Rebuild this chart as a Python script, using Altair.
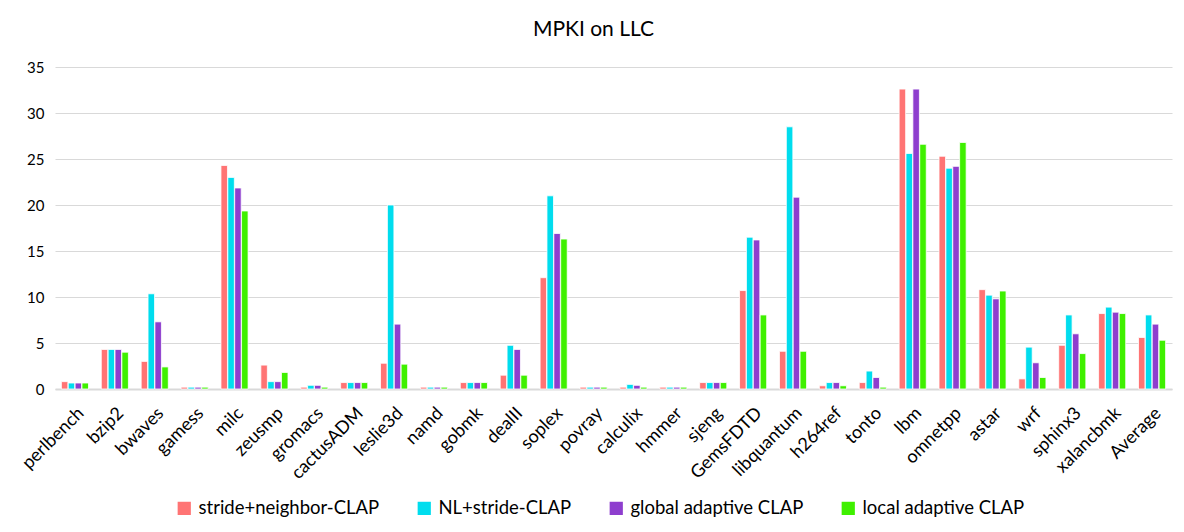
import altair as alt
import pandas as pd

categories = ["perlbench", "bzip2", "bwaves", "gamess", "milc", "zeusmp", "gromacs",
              "cactusADM", "leslie3d", "namd", "gobmk", "dealII", "soplex", "povray",
              "calculix", "hmmer", "sjeng", "GemsFDTD", "libquantum", "h264ref", "tonto",
              "lbm", "omnetpp", "astar", "wrf", "sphinx3", "xalancbmk", "Average"]
series = ["stride+neighbor-CLAP", "NL+stride-CLAP", "global adaptive CLAP", "local adaptive CLAP"]
colors = ["#FF7474", "#00DDEE", "#8E3ECE", "#3FF000"]

stride_neighbor = [0.8, 4.3, 3.0, 0.2, 24.3, 2.6, 0.2, 0.7, 2.8, 0.2, 0.7, 1.5, 12.1, 0.2,
                   0.2, 0.2, 0.7, 10.7, 4.1, 0.35, 0.7, 32.6, 25.3, 10.8, 1.1, 4.75, 8.2, 5.6]
nl_stride = [0.65, 4.3, 10.35, 0.2, 23.0, 0.8, 0.4, 0.7, 20.0, 0.2, 0.7, 4.75, 21.0, 0.2,
             0.5, 0.2, 0.7, 16.5, 28.5, 0.7, 1.95, 25.6, 24.0, 10.2, 4.55, 8.05, 8.9, 8.05]
global_adaptive = [0.65, 4.3, 7.3, 0.2, 21.85, 0.8, 0.4, 0.7, 7.05, 0.2, 0.7, 4.3, 16.9, 0.2,
                   0.4, 0.2, 0.7, 16.2, 20.85, 0.7, 1.25, 32.6, 24.2, 9.8, 2.85, 6.0, 8.35, 7.05]
local_adaptive = [0.65, 4.0, 2.4, 0.2, 19.35, 1.8, 0.2, 0.7, 2.7, 0.2, 0.7, 1.5, 16.3, 0.2,
                  0.2, 0.2, 0.7, 8.05, 4.1, 0.35, 0.2, 26.6, 26.8, 10.65, 1.25, 3.85, 8.2, 5.3]

rows = []
for name, vals in zip(series, [stride_neighbor, nl_stride, global_adaptive, local_adaptive]):
    for c, v in zip(categories, vals):
        rows.append({"bench": c, "series": name, "mpki": v})
df = pd.DataFrame(rows)

FONT = "Lato"

chart = alt.Chart(df).mark_bar(stroke="white", strokeWidth=0.8).encode(
    x=alt.X("bench:N", sort=categories,
            scale=alt.Scale(paddingInner=0.32, paddingOuter=0.16),
            axis=alt.Axis(title=None, labelAngle=-45, labelFontSize=18, labelFont=FONT,
                          labelColor="#000000", ticks=False, domainColor="#D9D9D9",
                          domainWidth=2, labelPadding=15, labelLimit=0)),
    xOffset=alt.XOffset("series:N", sort=series, scale=alt.Scale(paddingInner=0.05)),
    y=alt.Y("mpki:Q", scale=alt.Scale(domain=[0, 35]),
            axis=alt.Axis(title=None, values=[0, 5, 10, 15, 20, 25, 30, 35], labelFontSize=15,
                          labelFont=FONT, labelColor="#000000", ticks=False, domain=False,
                          gridColor="#D9D9D9", gridWidth=1.2, labelPadding=11)),
    color=alt.Color("series:N", sort=series,
                    scale=alt.Scale(domain=series, range=colors),
                    legend=alt.Legend(title=None, orient="none", direction="horizontal",
                                      legendX=120, legendY=432, symbolType="square",
                                      symbolSize=175, symbolStrokeWidth=0, labelFontSize=18.5,
                                      labelFont=FONT, labelColor="#000000", columnPadding=35,
                                      labelOffset=5, padding=0, labelLimit=0)),
).properties(
    width=1117, height=322,
    title=alt.TitleParams("MPKI on LLC", font=FONT, fontSize=21, fontWeight="normal",
                          color="#000000", anchor="middle", dx=-20, offset=20),
    autosize=alt.AutoSizeParams(type="none"),
    padding={"left": 47, "top": 59, "right": 4, "bottom": 135},
).configure_view(stroke=None)

chart.save("out.html", embed_options={"renderer": "svg", "actions": False})
